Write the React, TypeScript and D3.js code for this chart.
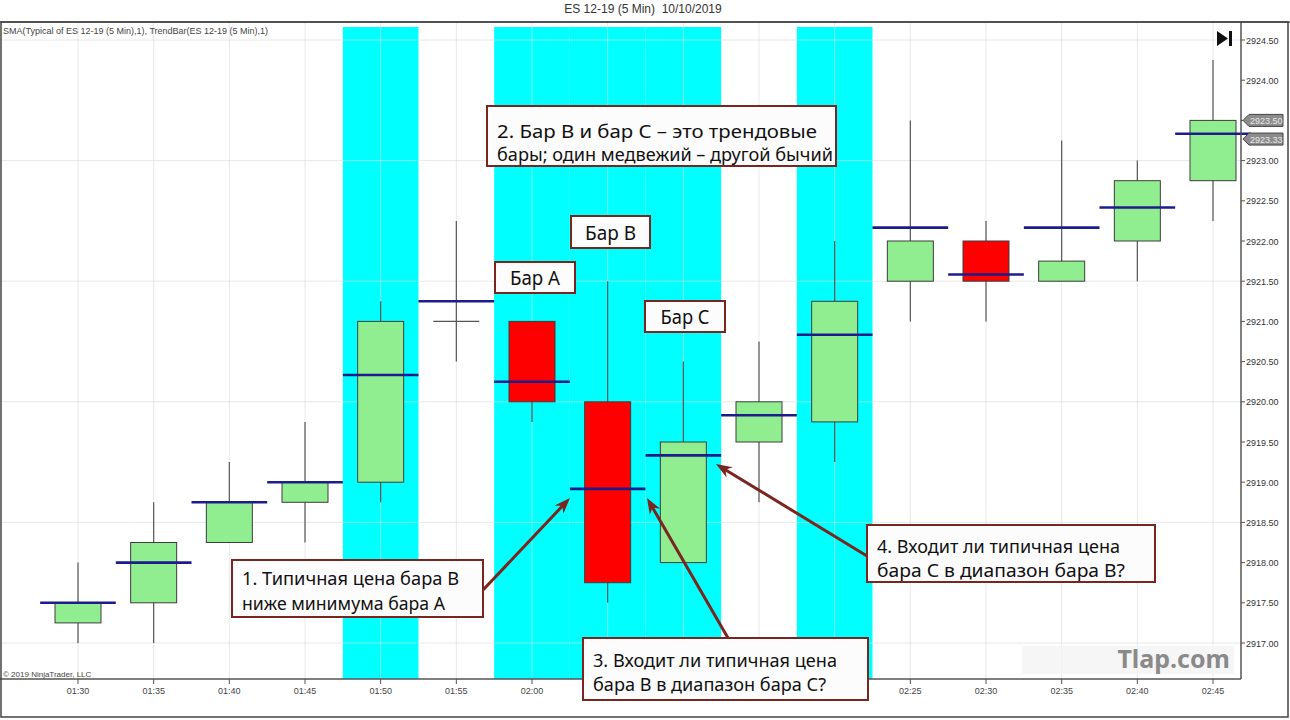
import React from "react";
import * as d3 from "d3";

const times = ["01:30","01:35","01:40","01:45","01:50","01:55","02:00","02:05","02:10","02:15","02:20","02:25","02:30","02:35","02:40","02:45"];
const opens = [2917.25,2917.5,2918.25,2918.75,2919.0,2921.0,2921.0,2920.0,2918.0,2919.5,2919.75,2921.5,2922.0,2921.5,2922.0,2922.75];
const highs = [2918.0,2918.75,2919.25,2919.75,2921.25,2922.25,2921.0,2921.5,2920.5,2920.75,2922.0,2923.5,2922.25,2923.25,2923.0,2924.25];
const lows = [2917.0,2917.0,2918.25,2918.25,2918.75,2920.5,2919.75,2917.5,2918.0,2918.75,2919.25,2921.0,2921.0,2921.5,2921.5,2922.25];
const closes = [2917.5,2918.25,2918.75,2919.0,2921.0,2921.0,2920.0,2917.75,2919.5,2920.0,2921.25,2922.0,2921.5,2921.75,2922.75,2923.5];
const trendBars = ["01:50","02:00","02:05","02:10","02:20"];
const yTicks = [2917,2917.5,2918,2918.5,2919,2919.5,2920,2920.5,2921,2921.5,2922,2922.5,2923,2923.5,2924,2924.5];
const yGrid = [2917,2918.5,2920,2921.5,2923,2924.5];
const priceTags = [2923.5, 2923.33];

const W = 1290, H = 720;
const plotRight = 1241, plotTop = 22, plotBottom = 679;

const x = d3.scalePoint<string>().domain(times).range([78, 1213]);
const slot = x.step();
const bodyW = 46;
const y = d3.scaleLinear().domain([2917, 2924.5]).range([643, 40]);

const typical = times.map((_, i) => (highs[i] + lows[i] + closes[i]) / 3);

const FONT = "'Noto Sans', 'DejaVu Sans', sans-serif";
const AX = "'Liberation Sans', Arial, sans-serif";
const RED_DARK = "#7a2620";

type Box = { x: number; y: number; w: number; h: number; lines: { t: string; len: number }[]; base: number; gap: number };
const boxes: Box[] = [
  { x: 487, y: 106, w: 349, h: 60, base: 138, gap: 23, lines: [{ t: "2. Бар В и бар С – это трендовые", len: 320 }, { t: "бары; один медвежий – другой бычий", len: 336 }] },
  { x: 571, y: 216, w: 79, h: 32, base: 240, gap: 0, lines: [{ t: "Бар В", len: 51 }] },
  { x: 495, y: 262, w: 80, h: 31, base: 285, gap: 0, lines: [{ t: "Бар А", len: 50 }] },
  { x: 645, y: 301, w: 80, h: 31, base: 324, gap: 0, lines: [{ t: "Бар С", len: 49 }] },
  { x: 232, y: 560, w: 251, h: 57, base: 585, gap: 25, lines: [{ t: "1. Типичная цена бара В", len: 217 }, { t: "ниже минимума бара А", len: 203 }] },
  { x: 867, y: 525, w: 288, h: 57, base: 553, gap: 24, lines: [{ t: "4. Входит ли типичная цена", len: 243 }, { t: "бара С в диапазон бара В?", len: 248 }] },
  { x: 583, y: 638, w: 285, h: 62, base: 667, gap: 24, lines: [{ t: "3. Входит ли типичная цена", len: 244 }, { t: "бара В в диапазон бара С?", len: 233 }] },
];

const arrows = [
  { x1: 483, y1: 590, x2: 570, y2: 498 },
  { x1: 728, y1: 638, x2: 647, y2: 498 },
  { x1: 867, y1: 556, x2: 716, y2: 464 },
];

// x-axis labels hidden under callout 3 in the reference
const coverBox = boxes[6];
const labelHidden = (t: string) => {
  const cx = x(t) as number;
  return cx + 14 > coverBox.x && cx - 14 < coverBox.x + coverBox.w;
};
// y tick labels covered by price tags
const tickHidden = (v: number) => priceTags.some((p) => Math.abs(y(p) - y(v)) < 8 || Math.abs(y(p) + 5 - y(v)) < 8);

function Arrow({ x1, y1, x2, y2 }: { x1: number; y1: number; x2: number; y2: number }) {
  const ang = Math.atan2(y2 - y1, x2 - x1);
  const len = 16, half = 6;
  const bx = x2 - len * Math.cos(ang), by = y2 - len * Math.sin(ang);
  const px = -Math.sin(ang) * half, py = Math.cos(ang) * half;
  const head = `M${x2},${y2} L${bx + px},${by + py} L${x2 - 11 * Math.cos(ang)},${y2 - 11 * Math.sin(ang)} L${bx - px},${by - py} Z`;
  return (
    <g>
      <line x1={x1} y1={y1} x2={x2 - 8 * Math.cos(ang)} y2={y2 - 8 * Math.sin(ang)} stroke={RED_DARK} strokeWidth={3} />
      <path d={head} fill={RED_DARK} />
    </g>
  );
}

export default function App() {
  return (
    <svg width={W} height={H} style={{ position: "absolute", left: 0, top: 0, background: "#fff" }}>
      <rect x={0} y={0} width={W} height={H} fill="#fff" />
      <text x={643} y={13} textAnchor="middle" fontFamily={AX} fontSize={12} fill="#333" style={{ whiteSpace: "pre" }}>{"ES 12-19 (5 Min)\u00a0\u00a010/10/2019"}</text>
      {/* trend highlight */}
      {times.map((t) =>
        trendBars.includes(t) ? (
          <rect key={"c" + t} x={(x(t) as number) - slot / 2} y={27} width={slot} height={plotBottom - 27} fill="#00ffff" />
        ) : null
      )}
      {/* grid */}
      {times.map((t) => (
        <line key={"vg" + t} x1={x(t)} x2={x(t)} y1={plotTop} y2={plotBottom} stroke="#d8d8d8" strokeOpacity={0.6} strokeWidth={1} />
      ))}
      {yGrid.map((v) => (
        <line key={"hg" + v} x1={0} x2={plotRight} y1={y(v)} y2={y(v)} stroke="#d8d8d8" strokeOpacity={0.6} strokeWidth={1} />
      ))}
      <text x={3} y={34} fontFamily={AX} fontSize={9} fill="#444">SMA(Typical of ES 12-19 (5 Min),1), TrendBar(ES 12-19 (5 Min),1)</text>
      {/* candles */}
      {times.map((t, i) => {
        const cx = x(t) as number;
        const up = closes[i] > opens[i];
        const flat = closes[i] === opens[i];
        const top = y(Math.max(opens[i], closes[i]));
        const bot = y(Math.min(opens[i], closes[i]));
        return (
          <g key={"k" + t}>
            <line x1={cx} x2={cx} y1={y(highs[i])} y2={y(lows[i])} stroke="#555" strokeWidth={1.2} />
            {flat ? (
              <line x1={cx - bodyW / 2} x2={cx + bodyW / 2} y1={top} y2={top} stroke="#555" strokeWidth={1.2} />
            ) : (
              <rect x={cx - bodyW / 2} y={top} width={bodyW} height={bot - top} fill={up ? "#90ee90" : "#ff0000"} stroke="#3d3d3d" strokeWidth={1} />
            )}
          </g>
        );
      })}
      {/* SMA typical */}
      {times.map((t, i) => {
        const cx = x(t) as number;
        return <line key={"s" + t} x1={cx - slot / 2} x2={cx + slot / 2} y1={y(typical[i])} y2={y(typical[i])} stroke="#1c1c8c" strokeWidth={2.6} />;
      })}
      {/* frame */}
      <line x1={0} x2={W} y1={plotTop} y2={plotTop} stroke="#555" strokeWidth={1.5} />
      <line x1={0} x2={plotRight} y1={plotBottom} y2={plotBottom} stroke="#555" strokeWidth={1.5} />
      <line x1={plotRight} x2={plotRight} y1={plotTop} y2={plotBottom} stroke="#555" strokeWidth={1.5} />
      <rect x={1} y={plotTop} width={W - 3} height={717 - plotTop} fill="none" stroke="#444" strokeWidth={1.5} />
      {/* play icon */}
      <path d="M1217,31 L1228,38.5 L1217,46 Z" fill="#111" />
      <rect x={1229} y={31} width={3} height={15} fill="#111" />
      {/* y axis */}
      {yTicks.map((v) => (
        <g key={"yt" + v}>
          <line x1={plotRight} x2={plotRight + 4} y1={y(v)} y2={y(v)} stroke="#555" />
          {tickHidden(v) ? null : (
            <text x={plotRight + 5} y={y(v) + 3.5} fontFamily={AX} fontSize={9} fill="#333">{v.toFixed(2)}</text>
          )}
        </g>
      ))}
      {priceTags.map((v, k) => {
        const yy = k === 0 ? y(v) : y(v) + 5;
        return (
          <g key={"pt" + v}>
            <path d={`M${plotRight + 2},${yy} L${plotRight + 8},${yy - 6} L${plotRight + 42},${yy - 6} L${plotRight + 42},${yy + 6} L${plotRight + 8},${yy + 6} Z`} fill="#8c8c8c" stroke="#444" strokeWidth={1} />
            <text x={plotRight + 9} y={yy + 3.5} fontFamily={AX} fontSize={9} fill="#e8e8e8">{v.toFixed(2)}</text>
          </g>
        );
      })}
      {/* x axis */}
      {times.map((t) => (
        <g key={"xt" + t}>
          <line x1={x(t)} x2={x(t)} y1={plotBottom} y2={plotBottom + 5} stroke="#555" />
          {labelHidden(t) ? null : (
            <text x={x(t)} y={694} textAnchor="middle" fontFamily={AX} fontSize={9} fill="#444">{t}</text>
          )}
        </g>
      ))}
      <text x={3} y={677} fontFamily={AX} fontSize={8} fill="#444">© 2019 NinjaTrader, LLC</text>
      {/* watermark */}
      <rect x={1022} y={646} width={212} height={28} fill="#f4f4f4" opacity={0.8} />
      <text x={1230} y={668} textAnchor="end" fontFamily={FONT} fontWeight="bold" fontSize={25} fill="#8a8a8a">Tlap.com</text>
      {/* arrows */}
      {arrows.map((a, i) => <Arrow key={"a" + i} {...a} />)}
      {/* callouts */}
      {boxes.map((b, i) => (
        <g key={"b" + i}>
          <rect x={b.x} y={b.y} width={b.w} height={b.h} fill="#fdfcfc" stroke={RED_DARK} strokeWidth={2} />
          {b.lines.map((l, j) => (
            <text key={j} x={b.lines.length === 1 ? b.x + b.w / 2 : b.x + 10} y={b.base + j * b.gap} textAnchor={b.lines.length === 1 ? "middle" : "start"} fontFamily={FONT} fontSize={b.lines.length === 1 ? 20 : 18.5} fill="#111" textLength={l.len} lengthAdjust="spacingAndGlyphs">{l.t}</text>
          ))}
        </g>
      ))}
    </svg>
  );
}
